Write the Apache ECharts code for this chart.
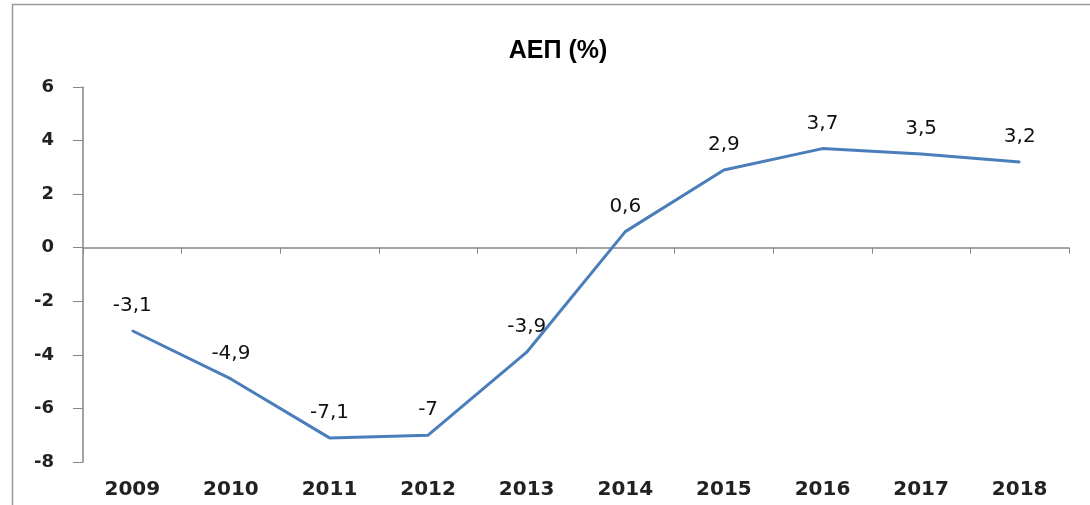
<!DOCTYPE html>
<html>
<head>
<meta charset="utf-8">
<script src="https://cdn.jsdelivr.net/npm/echarts@6/dist/echarts.min.js"></script>
<style>html,body{margin:0;padding:0;background:#fff}#c{width:1090px;height:505px}</style>
</head>
<body>
<div id="c"></div>
<script>
var categories = ['2009','2010','2011','2012','2013','2014','2015','2016','2017','2018'];
var gdpValues = [-3.1, -4.9, -7.1, -7, -3.9, 0.6, 2.9, 3.7, 3.5, 3.2];
var titleText = 'ΑΕΠ (%)';
var yMin = -8, yMax = 6, yStep = 2;

var chart = echarts.init(document.getElementById('c'));
chart.setOption({
  animation: false,
  backgroundColor: '#fff',
  graphic: [{
    type: 'rect', shape: {x: 12.5, y: 4.5, width: 1100, height: 520},
    style: {fill: 'none', stroke: '#9a9a9a', lineWidth: 1.5}, silent: true, z: -1
  }],
  title: {
    text: titleText, left: 553, top: 34, textAlign: 'center',
    textStyle: {fontFamily: 'Arial', fontWeight: 'bold', fontSize: 25, color: '#000'}
  },
  grid: {left: 83, right: 21, top: 87, bottom: 43, containLabel: false},
  xAxis: [{
    type: 'category', data: categories, boundaryGap: true, position: 'bottom',
    axisLine: {onZero: true, lineStyle: {color: '#868686', width: 1.5}},
    axisTick: {show: true, length: 6, inside: false, lineStyle: {color: '#868686'}},
    axisLabel: {show: false}, splitLine: {show: false}
  }, {
    type: 'category', data: categories, boundaryGap: true, position: 'bottom',
    axisLine: {show: false, onZero: false}, axisTick: {show: false},
    axisLabel: {show: true, margin: 18, fontFamily: 'DejaVu Sans', fontWeight: 'bold', fontSize: 20, color: '#222'},
    splitLine: {show: false}
  }],
  yAxis: {
    type: 'value', min: yMin, max: yMax, interval: yStep,
    axisLine: {show: true, lineStyle: {color: '#868686', width: 1.5}},
    axisTick: {show: true, length: 10, lineStyle: {color: '#868686'}},
    axisLabel: {margin: 29, fontFamily: 'DejaVu Sans', fontWeight: 'bold', fontSize: 18, color: '#222'},
    splitLine: {show: false}
  },
  series: [{
    type: 'line', data: gdpValues, xAxisIndex: 0,
    showSymbol: true, symbol: 'circle', symbolSize: 2,
    itemStyle: {color: '#4A7EBB'},
    lineStyle: {color: '#4A7EBB', width: 3},
    label: {
      show: true, position: 'top', distance: 14,
      fontFamily: 'DejaVu Sans', fontSize: 20, color: '#111',
      formatter: function(p){ return String(p.value).replace('.', ','); }
    }
  }]
});
</script>
</body>
</html>
